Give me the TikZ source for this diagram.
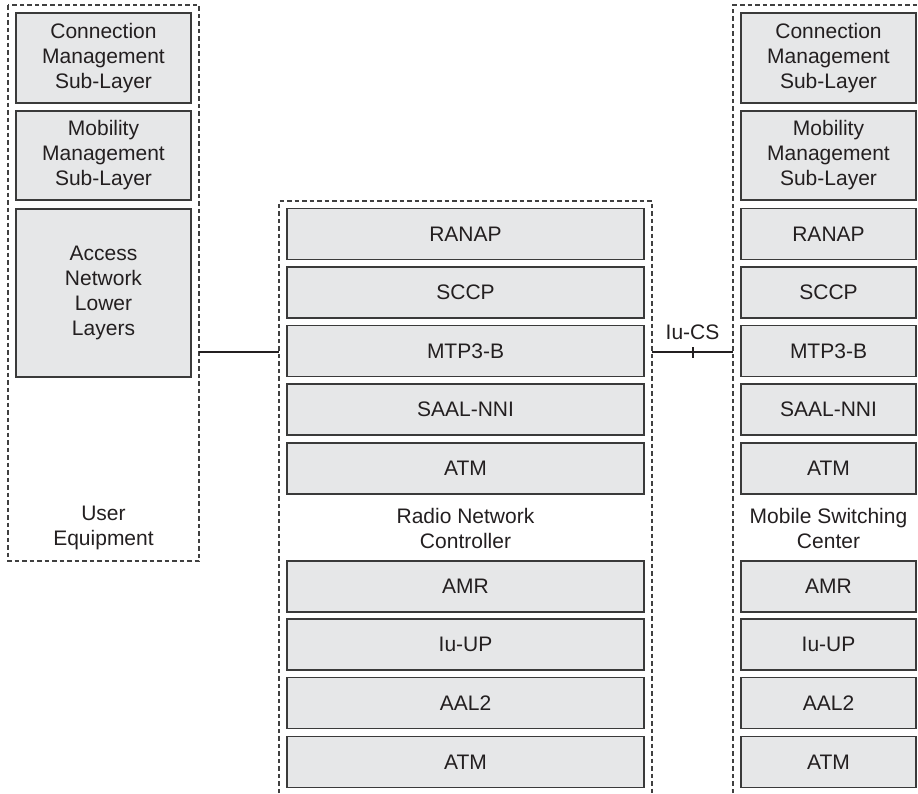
\documentclass[tikz,border=0pt]{standalone}
\usepackage{fontspec}
\setmainfont{Liberation Sans}
\definecolor{boxfill}{HTML}{E6E7E8}
\definecolor{boxline}{HTML}{3A3A3A}
\definecolor{dashc}{HTML}{404040}
\definecolor{txt}{HTML}{231F20}
\begin{document}
\begin{tikzpicture}[x=1pt,y=-1pt,
  layer/.style={draw=boxline, fill=boxfill, line width=1.2pt, inner sep=0pt,
    font=\fontsize{21}{25}\selectfont, text=txt, align=center},
  narrow/.style={layer, minimum width=175pt, minimum height=51pt},
  wide/.style={layer, minimum width=357pt, minimum height=51pt},
  caption/.style={font=\fontsize{21}{25}\selectfont, text=txt, align=center, inner sep=0pt},
  container/.style={draw=dashc, dash pattern=on 4.5pt off 3pt, line width=1.3pt},
  link/.style={draw=txt, line width=1.6pt}]
\useasboundingbox (0,0) rectangle (918,793);

% containers
\draw[container] (8,5) rectangle (199,561);
\draw[container] (279,793) -- (279,201) -- (652,201) -- (652,793);
\draw[container] (733,793) -- (733,5) -- (918,5);

% User Equipment
\node[layer, minimum width=175pt, minimum height=90pt] (ue1) at (103.5,58) {Connection\\Management\\Sub-Layer};
\node[layer, minimum width=175pt, minimum height=89pt] (ue2) at (103.5,155.5) {Mobility\\Management\\Sub-Layer};
\node[layer, minimum width=175pt, minimum height=168pt] (ue3) at (103.5,293) {Access\\Network\\Lower\\Layers};
\node[caption] (uelbl) at (103.5,528) {User\\Equipment};

% Radio Network Controller
\node[wide] (rnc1) at (465.5,234) {RANAP};
\node[wide] (rnc2) at (465.5,292.5) {SCCP};
\node[wide] (rnc3) at (465.5,351) {MTP3-B};
\node[wide] (rnc4) at (465.5,409.5) {SAAL-NNI};
\node[wide] (rnc5) at (465.5,468.5) {ATM};
\node[caption] (rnclbl) at (465.5,528) {Radio Network\\Controller};
\node[wide] (rnc6) at (465.5,586.5) {AMR};
\node[wide] (rnc7) at (465.5,644.5) {Iu-UP};
\node[wide] (rnc8) at (465.5,703) {AAL2};
\node[wide] (rnc9) at (465.5,762) {ATM};

% Mobile Switching Center
\node[layer, minimum width=175pt, minimum height=90pt] (msc1) at (828.5,58) {Connection\\Management\\Sub-Layer};
\node[layer, minimum width=175pt, minimum height=89pt] (msc2) at (828.5,155.5) {Mobility\\Management\\Sub-Layer};
\node[narrow] (msc3) at (828.5,234) {RANAP};
\node[narrow] (msc4) at (828.5,292.5) {SCCP};
\node[narrow] (msc5) at (828.5,351) {MTP3-B};
\node[narrow] (msc6) at (828.5,409.5) {SAAL-NNI};
\node[narrow] (msc7) at (828.5,468.5) {ATM};
\node[caption] (msclbl) at (828.5,528) {Mobile Switching\\Center};
\node[narrow] (msc8) at (828.5,586.5) {AMR};
\node[narrow] (msc9) at (828.5,644.5) {Iu-UP};
\node[narrow] (msc10) at (828.5,703) {AAL2};
\node[narrow] (msc11) at (828.5,762) {ATM};

% connectors
\coordinate (ueE) at (199,352);
\coordinate (rncW) at (279,352);
\coordinate (rncE) at (652,352);
\coordinate (mscW) at (733,352);
\draw[link] (ueE) -- (rncW);
\draw[link] (rncE) -- coordinate (iumid) (mscW);
\draw[link, line width=2pt] ([yshift=-5.5pt]iumid) -- ([yshift=5.5pt]iumid);
\node[caption] (iulbl) at (692.5,332) {Iu-CS};
\end{tikzpicture}
\end{document}
